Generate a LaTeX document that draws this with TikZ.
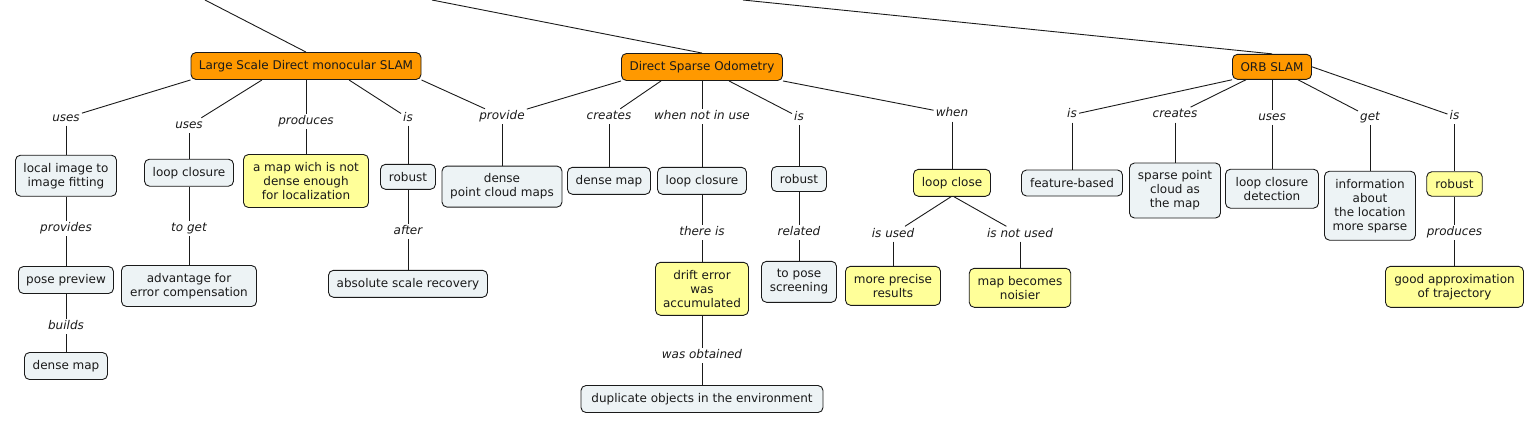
\documentclass[tikz,border=0pt]{standalone}
\usepackage{fontspec}
\setmainfont{DejaVu Sans}
\definecolor{orangeC}{HTML}{FF9900}
\definecolor{yellowC}{HTML}{FFFF99}
\definecolor{blueC}{HTML}{EDF3F5}
\definecolor{inkC}{HTML}{1A1A1A}
\newcommand{\cfont}{\fontsize{12}{14}\selectfont}
\newcommand{\lfont}{\fontsize{12}{14}\selectfont\itshape}
\tikzset{
  concept/.style={draw=inkC, text=inkC, rounded corners=5pt, align=center, font=\cfont, inner sep=0pt, line width=0.9pt},
  rootbox/.style={concept, fill=orangeC},
  plainbox/.style={concept, fill=blueC},
  hlbox/.style={concept, fill=yellowC},
  lbl/.style={font=\lfont, text=inkC, inner sep=2pt, text height=8.5pt, text depth=2.5pt},
  link/.style={draw=inkC, line width=0.9pt}
}
\begin{document}
\begin{tikzpicture}[x=1pt,y=-1pt]
\useasboundingbox (0,0) rectangle (1536,424);
\clip (0,0) rectangle (1536,424);
% root concepts
\node[rootbox, minimum width=230pt, minimum height=27pt] (lsd) at (306,66) {Large Scale Direct monocular SLAM};
\node[rootbox, minimum width=161pt, minimum height=27pt] (dso) at (702,67) {Direct Sparse Odometry};
\node[rootbox, minimum width=79pt, minimum height=25pt] (orb) at (1272,66.8) {ORB SLAM};
\coordinate (tl) at (205,0);
\coordinate (tm) at (432,0);
\coordinate (tr) at (743,0);
% LSD subtree
\node[lbl] (L1) at (66,118) {uses};
\node[plainbox, minimum width=101pt, minimum height=41pt] (a1) at (66,175.7) {local image to\\image fitting};
\node[lbl] (L6) at (66,228.5) {provides};
\node[plainbox, minimum width=95pt, minimum height=27pt] (a2) at (66,280) {pose preview};
\node[lbl] (L7) at (66,326.5) {builds};
\node[plainbox, minimum width=83pt, minimum height=27pt] (a3) at (66,366) {dense map};
\node[lbl] (L2) at (189,125.5) {uses};
\node[plainbox, minimum width=89pt, minimum height=27pt] (b1) at (189,172.7) {loop closure};
\node[lbl] (L8) at (189,228.5) {to get};
\node[plainbox, minimum width=135pt, minimum height=41pt] (b2) at (189,286) {advantage for\\error compensation};
\node[lbl] (L3) at (306,121.5) {produces};
\node[hlbox, minimum width=125pt, minimum height=53pt] (c1) at (306,181) {a map wich is not\\dense enough\\for localization};
\node[lbl] (L4) at (408,118) {is};
\node[plainbox, minimum width=55pt, minimum height=25pt] (d1) at (408,176.8) {robust};
\node[lbl] (L9) at (408,231.2) {after};
\node[plainbox, minimum width=159pt, minimum height=27pt] (d2) at (408,283.8) {absolute scale recovery};
\node[lbl] (L5) at (502,116.5) {provide};
\node[plainbox, minimum width=120pt, minimum height=41pt] (e1) at (502,186.6) {dense\\point cloud maps};
% DSO subtree
\node[lbl] (L10) at (609,116.5) {creates};
\node[plainbox, minimum width=83pt, minimum height=27pt] (f1) at (609,180.8) {dense map};
\node[lbl] (L11) at (702,116.5) {when not in use};
\node[plainbox, minimum width=89pt, minimum height=27pt] (g1) at (702,180.8) {loop closure};
\node[lbl] (L14) at (702,232.5) {there is};
\node[hlbox, minimum width=93pt, minimum height=53pt] (g2) at (702,288.8) {drift error\\was\\accumulated};
\node[lbl] (L15) at (702,355.5) {was obtained};
\node[plainbox, minimum width=242pt, minimum height=27pt] (g3) at (702,399) {duplicate objects in the environment};
\node[lbl] (L12) at (799,117.2) {is};
\node[plainbox, minimum width=55pt, minimum height=25pt] (h1) at (799,179) {robust};
\node[lbl] (L16) at (799,232.5) {related};
\node[plainbox, minimum width=75pt, minimum height=41pt] (h2) at (799,281.8) {to pose\\screening};
\node[lbl] (L13) at (952,113.8) {when};
\node[hlbox, minimum width=77pt, minimum height=27pt] (i1) at (952,182.8) {loop close};
\node[lbl] (L17) at (893,234) {is used};
\node[hlbox, minimum width=95pt, minimum height=39pt] (i2) at (893,285.8) {more precise\\results};
\node[lbl] (L18) at (1020,234) {is not used};
\node[hlbox, minimum width=101.5pt, minimum height=39pt] (i3) at (1020,287.8) {map becomes\\noisier};
% ORB subtree
\node[lbl] (L19) at (1072,114.8) {is};
\node[plainbox, minimum width=101pt, minimum height=26pt] (j1) at (1072,183) {feature-based};
\node[lbl] (L20) at (1175,114.8) {creates};
\node[plainbox, minimum width=91pt, minimum height=55pt] (k1) at (1175,190.5) {sparse point\\cloud as\\the map};
\node[lbl] (L21) at (1272,117.2) {uses};
\node[plainbox, minimum width=93pt, minimum height=39pt] (l1) at (1272,188.7) {loop closure\\detection};
\node[lbl] (L22) at (1370,117.2) {get};
\node[plainbox, minimum width=91pt, minimum height=69pt] (m1) at (1370,205.7) {information\\about\\the location\\more sparse};
\node[lbl] (L23) at (1454.5,116.5) {is};
\node[hlbox, minimum width=55.5pt, minimum height=24.5pt] (n1) at (1454.5,184) {robust};
\node[lbl] (L24) at (1454.5,232.5) {produces};
\node[hlbox, minimum width=138pt, minimum height=41pt] (n2) at (1454.5,286.8) {good approximation\\of trajectory};
% connectors
\draw[link] (tl) -- (lsd.north);
\draw[link] (tm) -- (dso.north);
\draw[link] (tr) -- (orb.north);
\draw[link] (lsd.south west) -- (L1);
\draw[link] ([xshift=-44pt]lsd.south) -- (L2);
\draw[link] (lsd.south) -- (L3);
\draw[link] ([xshift=43pt]lsd.south) -- (L4);
\draw[link] (lsd.south east) -- (L5);
\draw[link] (dso.south west) -- (L5);
\draw[link] (L1) -- (a1);
\draw[link] (a1) -- (L6);
\draw[link] (L6) -- (a2);
\draw[link] (a2) -- (L7);
\draw[link] (L7) -- (a3);
\draw[link] (L2) -- (b1);
\draw[link] (b1) -- (L8);
\draw[link] (L8) -- (b2);
\draw[link] (L3) -- (c1);
\draw[link] (L4) -- (d1);
\draw[link] (d1) -- (L9);
\draw[link] (L9) -- (d2);
\draw[link] (L5) -- (e1);
\draw[link] ([xshift=-41pt]dso.south) -- (L10);
\draw[link] (L10) -- (f1);
\draw[link] (dso.south) -- (L11);
\draw[link] (L11) -- (g1);
\draw[link] (g1) -- (L14);
\draw[link] (L14) -- (g2);
\draw[link] (g2) -- (L15);
\draw[link] (L15) -- (g3);
\draw[link] ([xshift=27pt]dso.south) -- (L12);
\draw[link] (L12) -- (h1);
\draw[link] (h1) -- (L16);
\draw[link] (L16) -- (h2);
\draw[link] (dso.south east) -- (L13);
\draw[link] (L13) -- (i1);
\draw[link] ([xshift=-1pt]i1.south) -- (L17);
\draw[link] (L17) -- (i2);
\draw[link] ([xshift=2pt]i1.south) -- (L18);
\draw[link] (L18) -- (i3);
\draw[link] (orb.south west) -- (L19);
\draw[link] (L19) -- (j1);
\draw[link] ([xshift=-26pt]orb.south) -- (L20);
\draw[link] (L20) -- (k1);
\draw[link] (orb.south) -- (L21);
\draw[link] (L21) -- (l1);
\draw[link] ([xshift=26pt]orb.south) -- (L22);
\draw[link] (L22) -- (m1);
\draw[link] (orb.east) -- (L23);
\draw[link] (L23) -- (n1);
\draw[link] (n1) -- (L24);
\draw[link] (L24) -- (n2);
\end{tikzpicture}
\end{document}
